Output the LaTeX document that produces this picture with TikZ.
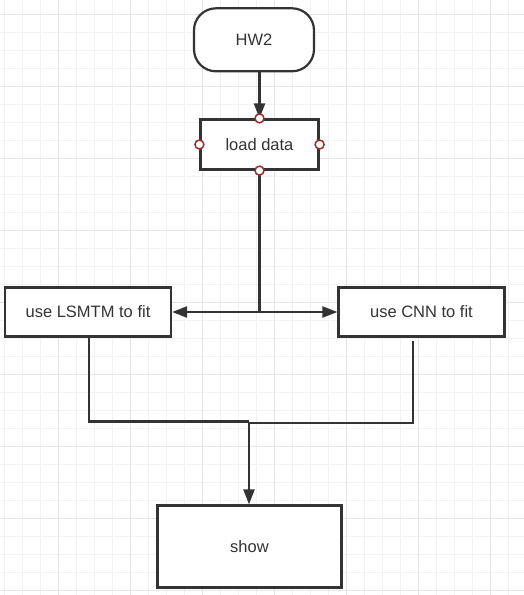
\documentclass[tikz,border=0pt]{standalone}
\usepackage{fontspec}
\setmainfont{Liberation Sans}
\usetikzlibrary{arrows.meta}
\definecolor{ink}{HTML}{333333}
\definecolor{gridminor}{HTML}{F2F2F2}
\definecolor{gridmajor}{HTML}{E5E5E5}
\definecolor{portred}{HTML}{9B2C2C}
\tikzset{
  box/.style={draw=ink, line width=2.2pt, fill=white, text=ink, inner sep=0pt,
    font=\fontsize{16.5}{19}\selectfont},
  flowline/.style={draw=ink, line width=2.2pt},
  flowarrow/.style={flowline, -{Triangle[length=15pt,width=11pt]}},
  port/.style={circle, draw=portred, fill=white, line width=1.5pt, minimum size=9pt, inner sep=0pt}
}
\begin{document}
\begin{tikzpicture}[x=1pt,y=-1pt]
\useasboundingbox (0,0) rectangle (524,595);
\fill[white] (0,0) rectangle (524,595);
% grid
\foreach \gx in {4.7,22.7,...,524} \draw[gridminor, line width=1pt] (\gx,0) -- (\gx,595);
\foreach \gy in {14.7,32.7,...,595} \draw[gridminor, line width=1pt] (0,\gy) -- (524,\gy);
\foreach \gx in {58.7,130.7,...,524} \draw[gridmajor, line width=1pt] (\gx,0) -- (\gx,595);
\foreach \gy in {14.7,86.7,...,595} \draw[gridmajor, line width=1pt] (0,\gy) -- (524,\gy);

% nodes
\node[box, rounded corners=22pt, minimum width=120pt, minimum height=63pt] (hw) at (254,39.8) {HW2};
\node[box, minimum width=118pt, minimum height=50pt] (ld) at (259.5,144.5) {load data};
\node[box, minimum width=166pt, minimum height=49pt] (ls) at (88,312) {use LSMTM to fit};
\node[box, minimum width=166pt, minimum height=49pt] (cn) at (421.5,312) {use CNN to fit};
\node[box, minimum width=184pt, minimum height=82pt] (sh) at (249.5,546.5) {show};

% junction coordinates
\coordinate (split) at (ld.south |- ls.east);
\coordinate (lsbot) at (89,337);
\coordinate (cnbot) at (413,341);
\coordinate (mergeL) at (249,421.5);
\coordinate (mergeR) at (249,423);

% connectors
\draw[flowarrow] (ld.north |- hw.south) -- (ld.north);
\draw[flowline] (ld.south) -- (split);
\draw[flowarrow] (split) -- (ls.east);
\draw[flowarrow] (split) -- (cn.west);
\draw[flowline] (lsbot) |- (mergeL);
\draw[flowline] (cnbot) |- (mergeR);
\draw[flowarrow] (mergeL) -- (sh.north -| mergeL);

% ports
\node[port] at (ld.north) {};
\node[port] at (ld.south) {};
\node[port] at (ld.west) {};
\node[port] at (ld.east) {};
\end{tikzpicture}
\end{document}
